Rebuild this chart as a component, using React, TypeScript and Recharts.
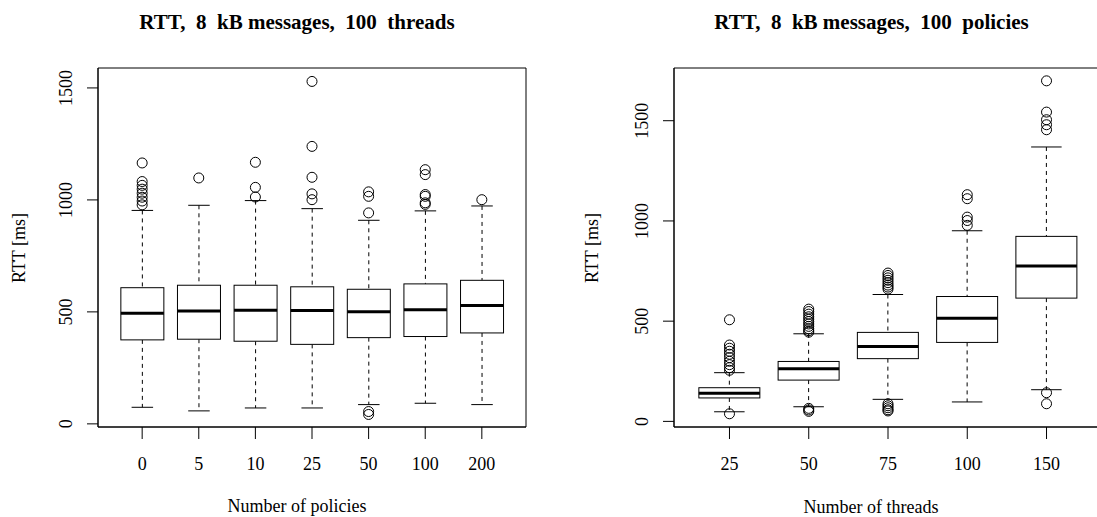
import { Bar, ComposedChart, ReferenceArea, Scatter, XAxis, YAxis } from "recharts";

// left panel: 100 threads, varying number of policies
const policyLabels = ["0", "5", "10", "25", "50", "100", "200"];
const policyLow = [74, 58, 71, 71, 86, 92, 86];
const policyQ1 = [375, 378, 369, 355, 385, 390, 406];
const policyMedian = [494, 504, 507, 506, 501, 510, 529];
const policyQ3 = [608, 619, 619, 612, 601, 625, 641];
const policyHigh = [953, 976, 997, 961, 909, 951, 973];
const policyOutliers = [
  [1165, 1082, 1065, 1048, 1030, 1012, 995, 978],
  [1098],
  [1168, 1056, 1013],
  [1529, 1239, 1101, 1027, 1001],
  [1036, 1016, 942, 55, 42],
  [1135, 1113, 1024, 1016, 987, 980],
  [1001],
];

// right panel: 100 policies, varying number of threads
const threadLabels = ["25", "50", "75", "100", "150"];
const threadLow = [48, 73, 110, 97, 158];
const threadQ1 = [117, 206, 313, 394, 615];
const threadMedian = [140, 263, 373, 514, 775];
const threadQ3 = [168, 299, 444, 623, 923];
const threadHigh = [243, 437, 633, 951, 1369];
const threadOutliers = [
  [507, 381, 365, 350, 335, 318, 300, 283, 268, 255, 38],
  [560, 548, 535, 522, 510, 498, 486, 474, 462, 452, 445, 65, 57, 50],
  [740, 728, 716, 704, 692, 680, 670, 660, 88, 78, 68, 58, 52],
  [1131, 1111, 1019, 1002, 978],
  [1699, 1543, 1505, 1480, 1455, 143, 88],
];

const yTicks = [0, 500, 1000, 1500];
const FONT = "'Liberation Serif', 'Times New Roman', serif";

function buildBoxes(low: number[], q1: number[], med: number[], q3: number[], high: number[]) {
  return low.map((lo, i) => ({ pos: i + 1, lo, q1: q1[i], med: med[i], q3: q3[i], hi: high[i] }));
}

function buildOutliers(groups: number[][]) {
  return groups.flatMap((vals, i) => vals.map((v) => ({ pos: i + 1, v })));
}

function BoxShape(props: any) {
  const { x, y, width, height, payload } = props;
  const top = Math.min(y, y + height);
  const bottom = Math.max(y, y + height);
  const { lo, hi, q1, med, q3 } = payload;
  const py = (v: number) => bottom - ((v - lo) / (hi - lo)) * (bottom - top);
  const cx = x + width / 2;
  const cap = width / 4;
  return (
    <g stroke="#000" fill="none">
      <line x1={cx} x2={cx} y1={py(hi)} y2={py(q3)} strokeDasharray="4 4" />
      <line x1={cx} x2={cx} y1={py(q1)} y2={py(lo)} strokeDasharray="4 4" />
      <line x1={cx - cap} x2={cx + cap} y1={py(hi)} y2={py(hi)} />
      <line x1={cx - cap} x2={cx + cap} y1={py(lo)} y2={py(lo)} />
      <rect x={x} y={py(q3)} width={width} height={py(q1) - py(q3)} fill="#fff" />
      <line x1={x} x2={x + width} y1={py(med)} y2={py(med)} strokeWidth={3} />
    </g>
  );
}

function YTick(props: any) {
  const { x, y, payload } = props;
  const tx = x - 15;
  return (
    <text x={tx} y={y} transform={`rotate(-90 ${tx} ${y})`} textAnchor="middle" fontFamily={FONT} fontSize={18} fill="#000">
      {payload.value}
    </text>
  );
}

interface PanelProps {
  labels: string[];
  boxes: ReturnType<typeof buildBoxes>;
  outliers: ReturnType<typeof buildOutliers>;
  xDomain: [number, number];
  yDomain: [number, number];
  width: number;
  marginLeft: number;
  marginRight: number;
  barSize: number;
}

function BoxPanel({ labels, boxes, outliers, xDomain, yDomain, width, marginLeft, marginRight, barSize }: PanelProps) {
  return (
    <ComposedChart
      width={width}
      height={517}
      data={boxes}
      margin={{ top: 68, right: marginRight, bottom: 50, left: marginLeft }}
    >
      <XAxis
        type="number"
        dataKey="pos"
        domain={xDomain}
        allowDataOverflow
        ticks={labels.map((_, i) => i + 1)}
        tickFormatter={(v) => labels[v - 1]}
        height={40}
        tickSize={12}
        tickMargin={18}
        stroke="#000"
        tick={{ fill: "#000", fontFamily: FONT, fontSize: 18 }}
      />
      <YAxis
        type="number"
        domain={yDomain}
        allowDataOverflow
        ticks={yTicks}
        width={40}
        tickSize={11}
        tickMargin={0}
        stroke="#000"
        tick={<YTick />}
      />
      <ReferenceArea
        x1={xDomain[0]}
        x2={xDomain[1]}
        y1={yDomain[0]}
        y2={yDomain[1]}
        fill="none"
        stroke="#000"
        ifOverflow="visible"
      />
      <Bar
        dataKey={(d: any) => [d.lo, d.hi]}
        barSize={barSize}
        shape={<BoxShape />}
        isAnimationActive={false}
      />
      <Scatter
        data={outliers}
        dataKey="v"
        isAnimationActive={false}
        shape={(p: any) => <circle cx={p.cx} cy={p.cy} r={5} fill="none" stroke="#000" />}
      />
    </ComposedChart>
  );
}

export default function App() {
  return (
    <div
      style={{
        position: "fixed",
        left: 0,
        top: 0,
        width: 1097,
        height: 517,
        overflow: "hidden",
        background: "#fff",
      }}
    >
      <div style={{ position: "absolute", left: 0, top: 0 }}>
        <BoxPanel
          labels={policyLabels}
          boxes={buildBoxes(policyLow, policyQ1, policyMedian, policyQ3, policyHigh)}
          outliers={buildOutliers(policyOutliers)}
          xDomain={[0.22, 7.78]}
          yDomain={[-14, 1589]}
          width={548}
          marginLeft={58}
          marginRight={22}
          barSize={43}
        />
      </div>
      <div style={{ position: "absolute", left: 548, top: 0 }}>
        <BoxPanel
          labels={threadLabels}
          boxes={buildBoxes(threadLow, threadQ1, threadMedian, threadQ3, threadHigh)}
          outliers={buildOutliers(threadOutliers)}
          xDomain={[0.3, 5.7]}
          yDomain={[-28, 1763]}
          width={560}
          marginLeft={86}
          marginRight={6}
          barSize={61}
        />
      </div>
      <svg
        width={1097}
        height={517}
        style={{ position: "absolute", left: 0, top: 0, pointerEvents: "none" }}
        fontFamily={FONT}
      >
        <text x={297} y={29} textAnchor="middle" fontSize={21} fontWeight="bold" style={{ whiteSpace: "pre" }}>
          {"RTT,  8  kB messages,  100  threads"}
        </text>
        <text x={871.5} y={29} textAnchor="middle" fontSize={21} fontWeight="bold" style={{ whiteSpace: "pre" }}>
          {"RTT,  8  kB messages,  100  policies"}
        </text>
        <text x={297} y={512} textAnchor="middle" fontSize={18}>
          Number of policies
        </text>
        <text x={871} y={513} textAnchor="middle" fontSize={18}>
          Number of threads
        </text>
        <text x={25} y={248} textAnchor="middle" fontSize={18} transform="rotate(-90 25 248)">
          RTT [ms]
        </text>
        <text x={598} y={248} textAnchor="middle" fontSize={18} transform="rotate(-90 598 248)">
          RTT [ms]
        </text>
      </svg>
    </div>
  );
}
